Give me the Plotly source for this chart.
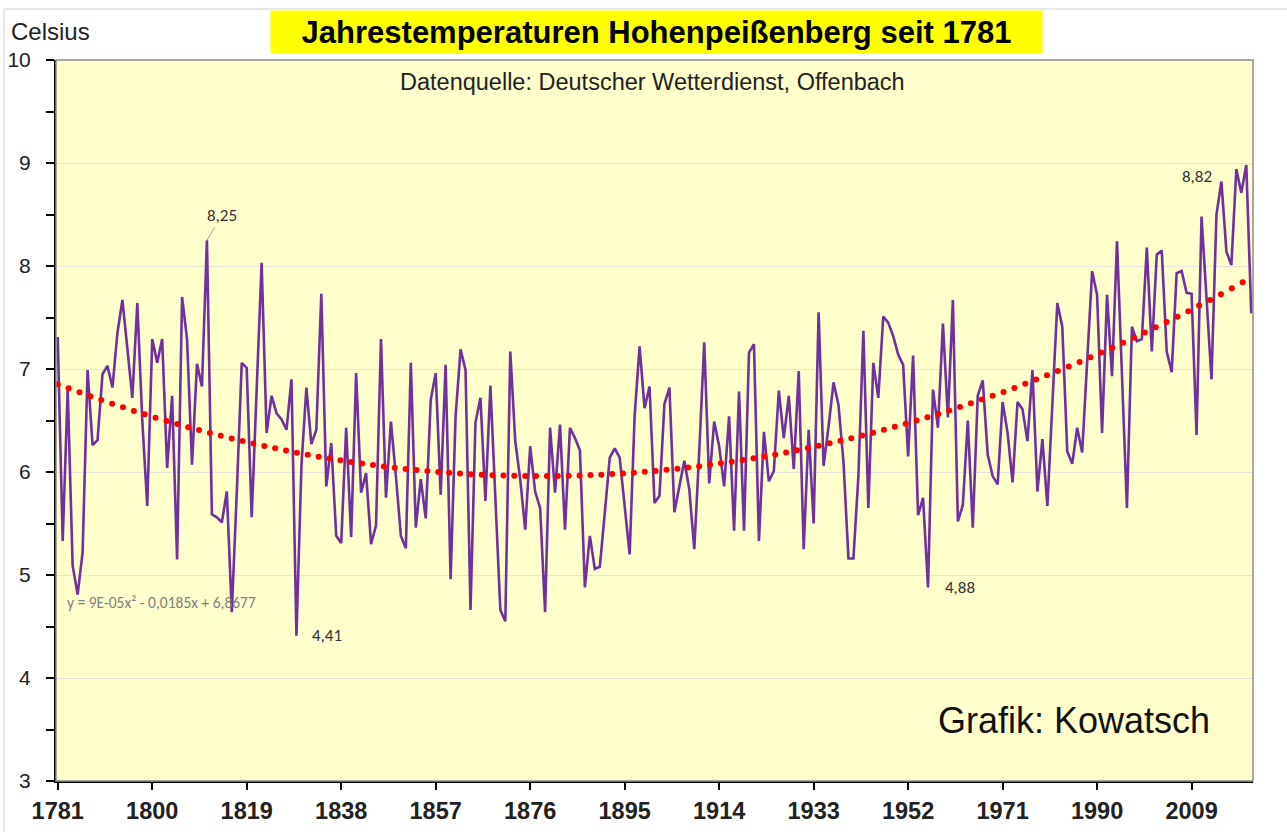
import numpy as np
import plotly.graph_objects as go

# ---------------- data ----------------
years = list(range(1781, 2022))
temps = [
    7.31, 5.33, 6.80, 5.09, 4.81, 5.22, 6.99, 6.26, 6.31, 6.95,   # 1781-1790
    7.03, 6.82, 7.35, 7.67, 7.20, 6.72, 7.64, 6.50, 5.67, 7.29,   # 1791-1800
    7.06, 7.29, 6.04, 6.74, 5.15, 7.70, 7.29, 6.07, 7.05, 6.83,   # 1801-1810
    8.25, 5.59, 5.56, 5.51, 5.81, 4.64, 5.80, 7.06, 7.01, 5.56,   # 1811-1820
    6.80, 8.03, 6.38, 6.74, 6.57, 6.51, 6.41, 6.90, 4.41, 6.06,   # 1821-1830
    6.82, 6.27, 6.41, 7.73, 5.86, 6.28, 5.38, 5.31, 6.43, 5.37,   # 1831-1840
    6.96, 5.80, 5.99, 5.30, 5.48, 7.29, 5.75, 6.49, 5.96, 5.38,   # 1841-1850
    5.26, 7.06, 5.46, 5.93, 5.55, 6.70, 6.96, 5.78, 7.04, 4.96,   # 1851-1860
    6.54, 7.19, 6.99, 4.66, 6.48, 6.72, 5.72, 6.84, 5.75, 4.66,   # 1861-1870
    4.55, 7.17, 6.30, 5.93, 5.44, 6.25, 5.81, 5.65, 4.64, 6.43,   # 1871-1880
    5.80, 6.46, 5.44, 6.43, 6.33, 6.21, 4.88, 5.38, 5.06, 5.08,   # 1881-1890
    5.60, 6.14, 6.23, 6.14, 5.67, 5.20, 6.54, 7.22, 6.62, 6.83,   # 1891-1900
    5.70, 5.77, 6.66, 6.82, 5.61, 5.86, 6.11, 5.83, 5.25, 6.20,   # 1901-1910
    7.26, 5.89, 6.49, 6.25, 5.86, 6.54, 5.43, 6.78, 5.43, 7.16,   # 1911-1920
    7.24, 5.33, 6.39, 5.91, 6.01, 6.79, 6.33, 6.74, 6.03, 6.98,   # 1921-1930
    5.25, 6.41, 5.50, 7.55, 6.06, 6.44, 6.87, 6.65, 6.10, 5.16,   # 1931-1940
    5.16, 5.96, 7.37, 5.65, 7.06, 6.72, 7.51, 7.45, 7.32, 7.14,   # 1941-1950
    7.04, 6.15, 7.13, 5.58, 5.75, 4.88, 6.80, 6.43, 7.44, 6.53,   # 1951-1960
    7.67, 5.52, 5.68, 6.50, 5.46, 6.74, 6.89, 6.17, 5.96, 5.88,   # 1961-1970
    6.68, 6.38, 5.90, 6.68, 6.61, 6.30, 6.99, 5.81, 6.32, 5.67,   # 1971-1980
    6.60, 7.64, 7.41, 6.20, 6.08, 6.43, 6.19, 7.09, 7.95, 7.72,   # 1981-1990
    6.38, 7.72, 6.93, 8.24, 6.90, 5.65, 7.41, 7.27, 7.29, 8.18,   # 1991-2000
    7.17, 8.11, 8.15, 7.17, 6.97, 7.93, 7.95, 7.74, 7.73, 6.36,   # 2001-2010
    8.48, 7.70, 6.90, 8.50, 8.82, 8.14, 8.01, 8.94, 8.71, 8.98,   # 2011-2020
    7.54,                                                         # 2021
]
assert len(years) == len(temps)

x_ticks = list(range(1781, 2010, 19))
y_ticks = [3, 4, 5, 6, 7, 8, 9, 10]
labelled_years = [1811, 1829, 1956, 2015]

title_text = "Jahrestemperaturen Hohenpeißenberg seit 1781"
source_text = "Datenquelle: Deutscher Wetterdienst, Offenbach"
credit_text = "Grafik: Kowatsch"
y_title = "Celsius"
equation_text = "y = 9E-05x² - 0,0185x + 6,8677"

# ---------------- trend (quadratic fit, Excel-style index x = 1..n) ----------------
idx = np.arange(1, len(temps) + 1)
coef = np.polyfit(idx, np.array(temps), 2)
trend_x = np.arange(years[0], years[-1] + 0.01, 2.186)
trend_y = np.polyval(coef, trend_x - years[0] + 1)

# ---------------- layout geometry ----------------
W, H = 1287, 832
L, R, T, B = 56, 34, 60, 51
PW, PH = W - L - R, H - T - B


def px(xp):
    return (xp - L) / PW


def py(yp):
    return (H - B - yp) / PH


fig = go.Figure()

fig.add_trace(go.Scatter(
    x=years, y=temps, mode="lines",
    line=dict(color="#7030A0", width=2.6),
    hoverinfo="x+y", showlegend=False,
))
fig.add_trace(go.Scatter(
    x=trend_x, y=trend_y, mode="markers",
    marker=dict(color="#FF0000", size=6, line=dict(width=0)),
    hoverinfo="skip", showlegend=False,
))

# value labels
label_font = dict(family="Carlito, Lato, Liberation Sans, sans-serif", size=17, color="#333333")
offsets = {1811: (11, 23, True), 1829: (31, 0, False), 1956: (32, 0, False), 2015: (-24, 5, False)}
for yr in labelled_years:
    v = temps[years.index(yr)]
    dx, dy, arrow = offsets[yr]
    txt = f"{v:.2f}".replace(".", ",")
    if arrow:
        fig.add_annotation(x=yr, y=v, text=txt, showarrow=True, arrowhead=0,
                           arrowwidth=1, arrowcolor="#a0a0a0", ax=dx + 4, ay=-dy - 2,
                           standoff=0, font=label_font)
    else:
        fig.add_annotation(x=yr, y=v, text=txt, showarrow=False,
                           xshift=dx, yshift=dy, font=label_font)

# texts
fig.add_annotation(xref="paper", yref="paper", x=px(656.5), y=py(32), text=f"<b>{title_text}</b>",
                   showarrow=False, xanchor="center", yanchor="middle", bgcolor="#FFFF00",
                   width=771, height=42, borderpad=0, align="center",
                   font=dict(family="Liberation Sans, Arial, sans-serif", size=31, color="#000000"))
fig.add_annotation(xref="paper", yref="paper", x=px(652), y=py(82), text=source_text,
                   showarrow=False, xanchor="center", yanchor="middle",
                   font=dict(family="Liberation Sans, Arial, sans-serif", size=23.5, color="#222222"))
fig.add_annotation(xref="paper", yref="paper", x=px(1074), y=py(720), text=credit_text,
                   showarrow=False, xanchor="center", yanchor="middle",
                   font=dict(family="Liberation Sans, Arial, sans-serif", size=36, color="#111111"))
fig.add_annotation(xref="paper", yref="paper", x=px(9), y=py(31), text=y_title,
                   showarrow=False, xanchor="left", yanchor="middle",
                   font=dict(family="Liberation Sans, Arial, sans-serif", size=24, color="#222222"))
fig.add_annotation(xref="paper", yref="paper", x=px(65), y=py(602), text=equation_text,
                   showarrow=False, xanchor="left", yanchor="middle",
                   font=dict(family="Carlito, Lato, Liberation Sans, sans-serif", size=15.5, color="#808080"))

# borders
fig.add_shape(type="rect", xref="paper", yref="paper", x0=px(4), x1=px(1300), y0=py(9), y1=py(850),
              line=dict(color="#d0d0d0", width=1), layer="below")
fig.add_shape(type="rect", xref="paper", yref="paper", x0=0, x1=1, y0=0, y1=1,
              line=dict(color="#8c8c8c", width=1.5), layer="above")

fig.update_layout(
    width=W, height=H,
    margin=dict(l=L, r=R, t=T, b=B, pad=0, autoexpand=False),
    paper_bgcolor="#FFFFFF", plot_bgcolor="#FFFFCC",
    font=dict(family="Liberation Sans, Arial, sans-serif", color="#222222"),
    showlegend=False,
)
fig.update_xaxes(
    range=[1780.65, 2021.35], tickmode="array", tickvals=x_ticks,
    ticktext=[f"<b>{t}</b>" for t in x_ticks],
    ticks="outside", ticklen=7, tickwidth=1.5, tickcolor="#000000",
    tickfont=dict(size=23.5, color="#222222"), ticklabelstandoff=1,
    showline=True, linecolor="#000000", linewidth=2,
    showgrid=False, zeroline=False, automargin=False,
)
fig.update_yaxes(
    range=[3, 10], tickmode="array", tickvals=y_ticks,
    ticks="outside", ticklen=8, tickwidth=1.5, tickcolor="#000000",
    tickfont=dict(size=21, color="#222222"), ticklabelstandoff=11,
    minor=dict(dtick=0.5, tick0=3, ticks="outside", ticklen=8, tickwidth=1.5, tickcolor="#000000", showgrid=False),
    showline=True, linecolor="#000000", linewidth=2,
    showgrid=True, gridcolor="#e6e6d8", gridwidth=1, zeroline=False, automargin=False,
)

fig.write_html("out.html", config={"displayModeBar": False},
               post_script="document.body.style.margin='0px';document.body.style.overflow='hidden';")
